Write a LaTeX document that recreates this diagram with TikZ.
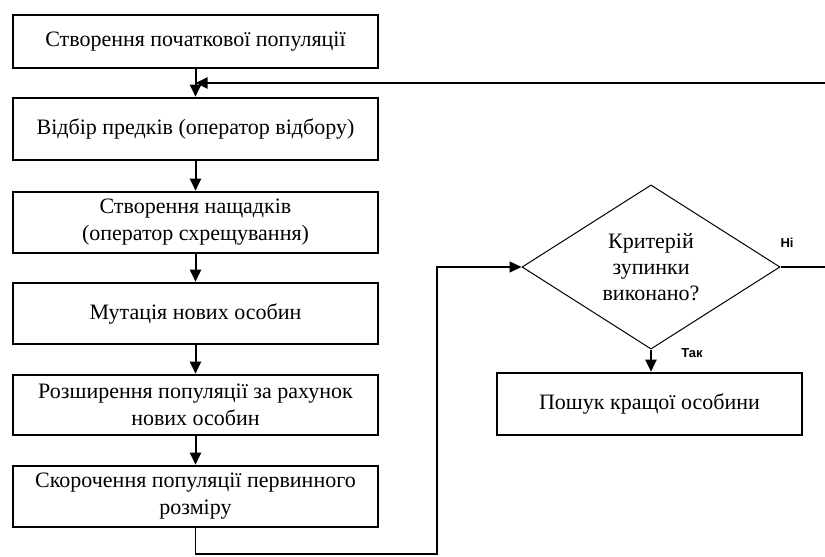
\documentclass[tikz,border=0pt]{standalone}
\usepackage{fontspec}
\setmainfont{Liberation Serif}
\newfontfamily\labelfont{Liberation Sans}
\usetikzlibrary{arrows.meta,shapes.geometric}
\begin{document}
\begin{tikzpicture}[x=1pt,y=-1pt,
  stepbox/.style={draw,line width=2.6pt,minimum width=365pt,minimum height=#1,
    inner sep=0pt,align=center,font=\fontsize{22}{27}\selectfont},
  stepbox/.default=61pt,
  decision/.style={diamond,draw,line width=1pt,minimum width=258pt,
    minimum height=163pt,inner sep=0pt,align=center,
    font=\fontsize{22}{26}\selectfont},
  conn/.style={line width=2pt,-{Triangle[length=12pt,width=11pt]}},
  loopline/.style={line width=1.3pt,-{Triangle[length=12pt,width=11pt]}},
  branch/.style={font=\labelfont\bfseries\fontsize{13}{15}\selectfont}]
\useasboundingbox (0,0) rectangle (825,557);

% main sequence of operators
\node[stepbox=53pt] (b1) at (195.5,41.5) {Створення початкової популяції};
\node[stepbox=62pt] (b2) at (195.5,129) {Відбір предків (оператор відбору)};
\node[stepbox] (b3) at (195.5,222.5) {Створення нащадків\\(оператор схрещування)};
\node[stepbox] (b4) at (195.5,313.5) {Мутація нових особин};
\node[stepbox=60pt] (b5) at (195.5,405) {Розширення популяції за рахунок\\нових особин};
\node[stepbox] (b6) at (195.5,496.5) {Скорочення популяції первинного\\розміру};

% stopping test and result
\node[decision] (dia) at (651,267) {Критерій\\зупинки\\виконано?};
\node[stepbox=62pt,minimum width=305pt] (b7) at (649.5,404) {Пошук кращої особини};

% junction where the loop returns
\coordinate (j) at (195.5,83);

\draw[line width=2pt] (b1.south) -- (j);
\draw[conn] (j) -- (b2.north);
\draw[conn] (b2) -- (b3);
\draw[conn] (b3) -- (b4);
\draw[conn] (b4) -- (b5);
\draw[conn] (b5) -- (b6);

% from the last operator to the stopping test
\draw[loopline] (b6.south) |- (437,554) |- (dia.west);

% "no" branch returns to selection
\draw[conn] (dia.east) -- (835,267) |- (j);

% "yes" branch
\draw[conn] (dia.south) -- (dia.south |- b7.north);

\node[branch] (no) at (787,243) {Ні};
\node[branch] (yes) at (692,353) {Так};
\end{tikzpicture}
\end{document}
